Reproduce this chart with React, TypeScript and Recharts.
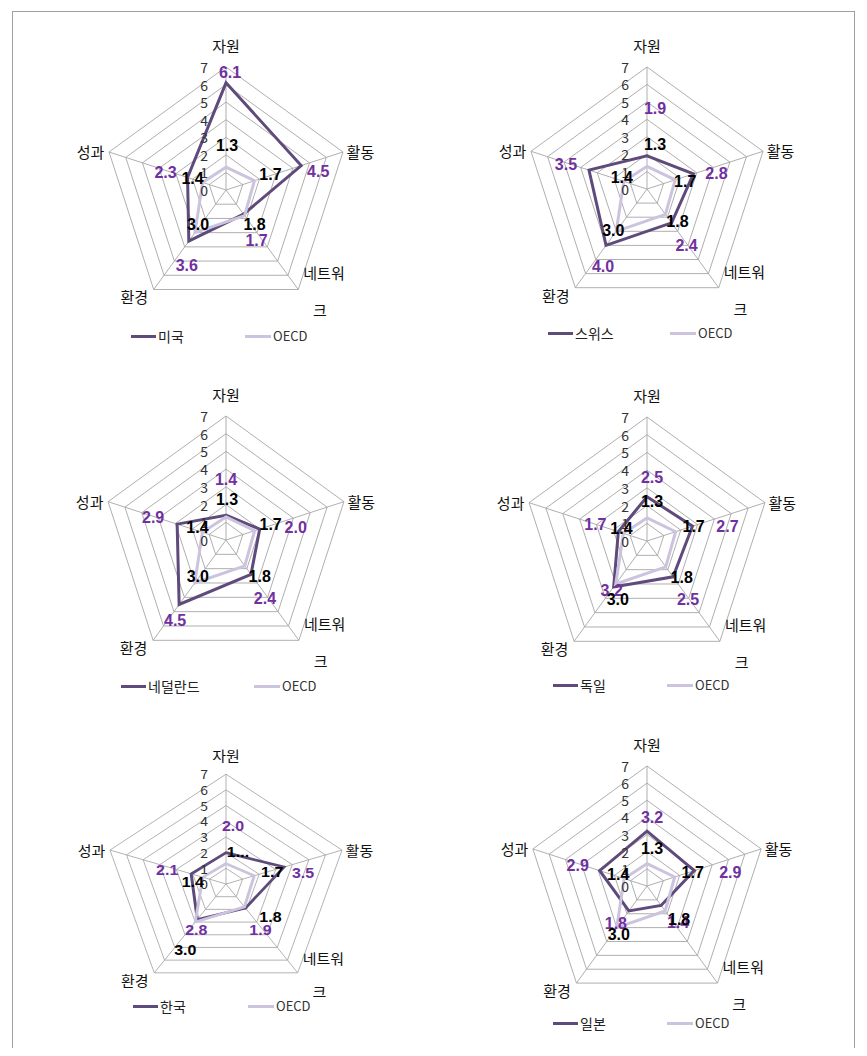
import React from 'react';
import { RadarChart, Radar, PolarGrid, PolarAngleAxis, PolarRadiusAxis, LabelList } from 'recharts';

const categories = ['자원', '활동', '네트워크', '환경', '성과'];
const radiusTicks = [0, 1, 2, 3, 4, 5, 6, 7];
const oecd = [1.3, 1.7, 1.8, 3.0, 1.4];
const usa = [6.1, 4.5, 1.7, 3.6, 2.3];
const swiss = [1.9, 2.8, 2.4, 4.0, 3.5];
const netherlands = [1.4, 2.0, 2.4, 4.5, 2.9];
const germany = [2.5, 2.7, 2.5, 3.2, 1.7];
const korea = [2.0, 3.5, 1.9, 2.8, 2.1];
const japan = [3.2, 2.9, 1.4, 1.8, 2.9];

const COUNTRY_COLOR = '#5E4B7C';
const OECD_COLOR = '#CCC3DE';
const LABEL_PURPLE = '#7030A0';
const CJK = "'Noto Sans CJK KR', 'Noto Sans', sans-serif";
const LATIN = "'Liberation Sans', Arial, sans-serif";

// chart box; cx/cy inside the box
const W = 400;
const H = 330;
const LCX = 200;
const LCY = 156;

type Nudge = [number, number][];

interface PanelCfg {
  name: string;
  values: number[];
  cx: number; // page coords
  cy: number;
  r: number;
  squash: number;
  legendY: number;
  legendX1: number;
  legendX2: number;
  cNudge: Nudge;
  oNudge: Nudge;
  oecdText?: Record<number, string>;
}

const panels: PanelCfg[] = [
  {
    name: '미국', values: usa, cx: 226, cy: 190, r: 123, squash: 1,
    legendY: 336, legendX1: 131, legendX2: 245,
    cNudge: [[4, -10], [17, 6], [13, 26], [-2, 24], [-22, -5]],
    oNudge: [[1, -22], [16, -6], [10, 9], [3, -8], [-10, -4]],
  },
  {
    name: '스위스', values: swiss, cx: 647, cy: 189, r: 122, squash: 1,
    legendY: 333, legendX1: 548, legendX2: 670,
    cNudge: [[8, -47], [23, 0], [15, 23], [-3, 21], [-23, -6]],
    oNudge: [[8, -22], [10, 2], [12, 7], [-3, -1], [-2, -4]],
  },
  {
    name: '네덜란드', values: netherlands, cx: 226, cy: 540, r: 124, squash: 1,
    legendY: 686, legendX1: 121, legendX2: 254,
    cNudge: [[0, -36], [36, -2], [14, 24], [-4, 16], [-24, -7]],
    oNudge: [[1, -17], [16, -6], [15, 11], [3, -6], [-5, -5]],
  },
  {
    name: '독일', values: germany, cx: 647, cy: 541, r: 124, squash: 1,
    legendY: 685, legendX1: 553, legendX2: 667,
    cNudge: [[5, -19], [35, 0], [15, 23], [-2, 4], [-23, -7]],
    oNudge: [[5, -16], [18, -5], [16, 11], [2, 16], [-2, -5]],
  },
  {
    name: '한국', values: korea, cx: 226, cy: 884, r: 122, squash: 0.9,
    legendY: 1006, legendX1: 133, legendX2: 248,
    cNudge: [[7, -27], [19, 6], [15, 22], [-1, 10], [-24, -4]],
    oNudge: [[12, -12], [18, -4], [26, 10], [-10, 28], [-10, 5]],
    oecdText: { 0: '1...' },
  },
  {
    name: '일본', values: japan, cx: 647, cy: 886, r: 120, squash: 1,
    legendY: 1023, legendX1: 553, legendX2: 667,
    cNudge: [[5, -14], [36, 2], [17, 17], [-13, 13], [-22, -5]],
    oNudge: [[5, -15], [18, -4], [14, 9], [2, 7], [-6, -4]],
  },
];

function renderAngleTick(props: any) {
  const { x, y, payload } = props;
  const idx = categories.indexOf(payload.value);
  const common = { fontSize: 15, fontFamily: CJK, fill: '#111' };
  if (idx === 0) {
    return <text x={x} y={y - 14} textAnchor="middle" dominantBaseline="central" {...common}>{payload.value}</text>;
  }
  if (idx === 1) {
    return <text x={x - 4} y={y + 2} textAnchor="start" dominantBaseline="central" {...common}>{payload.value}</text>;
  }
  if (idx === 2) {
    return (
      <g>
        <text x={x + 21} y={y - 23} textAnchor="middle" dominantBaseline="central" {...common}>네트워</text>
        <text x={x + 17} y={y + 14} textAnchor="middle" dominantBaseline="central" {...common}>크</text>
      </g>
    );
  }
  if (idx === 3) {
    return <text x={x - 1} y={y + 1} textAnchor="end" dominantBaseline="central" {...common}>{payload.value}</text>;
  }
  return <text x={x + 3} y={y + 2} textAnchor="end" dominantBaseline="central" {...common}>{payload.value}</text>;
}

function renderRadiusTick(props: any) {
  const { x, y, payload } = props;
  return (
    <text x={x - 18} y={y} textAnchor="end" dominantBaseline="central" fontSize={14} fontFamily={CJK} fill="#333">
      {payload.value}
    </text>
  );
}

const makeLabel = (nudge: Nudge, color: string, squash: number, override?: Record<number, string>) => (props: any) => {
  const { x, y, value, index } = props;
  if (x == null || y == null) return null;
  const [dx, dy] = nudge[index] || [0, 0];
  const text = override && override[index] ? override[index] : Number(value).toFixed(1);
  return (
    <text x={x + dx} y={y + dy / squash} textAnchor="middle" dominantBaseline="central"
      fill={color} fontSize={16} fontWeight="bold" fontFamily={LATIN}>
      {text}
    </text>
  );
};

function Panel({ p }: { p: PanelCfg }) {
  const data = categories.map((cat, i) => ({ cat, country: p.values[i], oecd: oecd[i] }));
  return (
    <>
      <div
        style={{
          position: 'absolute',
          left: p.cx - 8 - LCX,
          top: p.cy - 8 - LCY,
          width: W,
          height: H,
          transform: p.squash !== 1 ? `scaleY(${p.squash})` : undefined,
          transformOrigin: `${LCX}px ${LCY}px`,
        }}
      >
        <RadarChart width={W} height={H} cx={LCX} cy={LCY} outerRadius={p.r} data={data}
          margin={{ top: 0, right: 0, bottom: 0, left: 0 }}>
          <PolarGrid gridType="polygon" stroke="#A6A6A6" strokeWidth={0.9} />
          <PolarAngleAxis dataKey="cat" tick={renderAngleTick} tickLine={false} axisLine={false} />
          <PolarRadiusAxis angle={90} type="number" domain={[0, 7]} ticks={radiusTicks} tickCount={8}
            axisLine={false} tick={renderRadiusTick} />
          <Radar dataKey="country" stroke={COUNTRY_COLOR} strokeWidth={3} fill="none" fillOpacity={0}
            dot={false} isAnimationActive={false}>
            <LabelList dataKey="country" content={makeLabel(p.cNudge, LABEL_PURPLE, p.squash)} />
          </Radar>
          <Radar dataKey="oecd" stroke={OECD_COLOR} strokeWidth={3} fill="none" fillOpacity={0}
            dot={false} isAnimationActive={false}>
            <LabelList dataKey="oecd" content={makeLabel(p.oNudge, '#000', p.squash, p.oecdText)} />
          </Radar>
        </RadarChart>
      </div>
      {/* legend */}
      <div style={{ position: 'absolute', left: p.legendX1 - 8, top: p.legendY - 8 - 1.5, width: 25, height: 3, background: COUNTRY_COLOR }} />
      <div style={{ position: 'absolute', left: p.legendX1 - 8 + 27, top: p.legendY - 8 - 11, lineHeight: '22px', fontSize: 14, fontFamily: CJK, color: '#222' }}>
        {p.name}
      </div>
      <div style={{ position: 'absolute', left: p.legendX2 - 8, top: p.legendY - 8 - 1.5, width: 26, height: 3, background: OECD_COLOR }} />
      <div style={{ position: 'absolute', left: p.legendX2 - 8 + 28, top: p.legendY - 8 - 11, lineHeight: '22px', fontSize: 13, fontFamily: CJK, color: '#333' }}>
        OECD
      </div>
    </>
  );
}

export default function App() {
  return (
    <div style={{ position: 'relative', width: 851, height: 1040, background: '#fff' }}>
      <div style={{ position: 'absolute', left: 4, top: 3, width: 841, height: 1036, border: '1px solid #A0A0A0' }} />
      {panels.map(p => <Panel key={p.name} p={p} />)}
    </div>
  );
}
